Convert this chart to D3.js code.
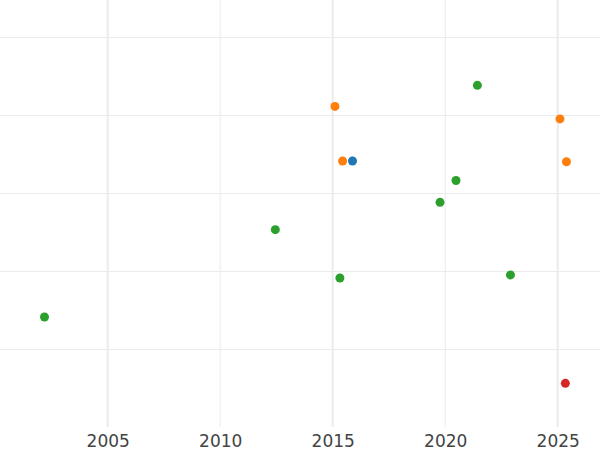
<!DOCTYPE html>
<html>
<head>
<meta charset="utf-8">
<script src="https://cdn.jsdelivr.net/npm/d3@7"></script>
<style>
  html, body { margin: 0; padding: 0; background: #fff; }
  svg { display: block; }
</style>
</head>
<body>
<svg id="chart" width="600" height="450"></svg>
<script>
// Data
const years  = [2002.19, 2012.45, 2015.10, 2015.44, 2015.88, 2019.77, 2020.48, 2021.43, 2025.10, 2025.39, 2015.32, 2022.90, 2025.34];
const values = [1.41, 2.53, 4.11, 3.41, 3.41, 2.88, 3.16, 4.38, 3.95, 3.40, 1.91, 1.95, 0.56];
const groups = ["C", "C", "B", "B", "A", "C", "C", "C", "B", "B", "C", "C", "D"];
const groupNames = ["A", "B", "C", "D"];
const groupColors = ["#1f77b4", "#ff7f0e", "#2ca02c", "#d62728"];
const xTicks = [2005, 2010, 2015, 2020, 2025];
const majorXTicks = [2005, 2015, 2025];
const yTicks = [1, 2, 3, 4, 5];

const W = 600, H = 450;
const plotBottom = 427;
const svg = d3.select("#chart");

const x = d3.scaleLinear().domain([2000.213, 2026.88]).range([0, W]);
const y = d3.scaleLinear().domain([0, 5.474]).range([plotBottom, 0]);
const color = d3.scaleOrdinal().domain(groupNames).range(groupColors);

// horizontal grid
svg.append("g").selectAll("line").data(yTicks).join("line")
  .attr("x1", 0).attr("x2", W)
  .attr("y1", d => Math.round(y(d)) + 0.5).attr("y2", d => Math.round(y(d)) + 0.5)
  .attr("stroke", "#ebebeb").attr("stroke-width", 1);

// vertical grid
svg.append("g").selectAll("line").data(xTicks).join("line")
  .attr("x1", d => x(d)).attr("x2", d => x(d))
  .attr("y1", 0).attr("y2", plotBottom)
  .attr("stroke", "#ebebeb")
  .attr("stroke-width", d => majorXTicks.includes(d) ? 2 : 1);

// x axis labels
const xAxis = d3.axisBottom(x).tickValues(xTicks).tickFormat(d3.format("d")).tickSize(0).tickPadding(0);
const gx = svg.append("g").attr("transform", `translate(0,${plotBottom})`).call(xAxis);
gx.select(".domain").remove();
gx.selectAll("text")
  .attr("y", 20)
  .attr("dy", 0)
  .attr("fill", "#444")
  .style("font-family", "DejaVu Sans")
  .style("font-size", "17px");

// points
const pts = years.map((yr, i) => ({x: yr, y: values[i], g: groups[i]}));
svg.append("g").selectAll("circle").data(pts).join("circle")
  .attr("cx", d => x(d.x))
  .attr("cy", d => y(d.y))
  .attr("r", 4.5)
  .attr("fill", d => color(d.g));
</script>
</body>
</html>
